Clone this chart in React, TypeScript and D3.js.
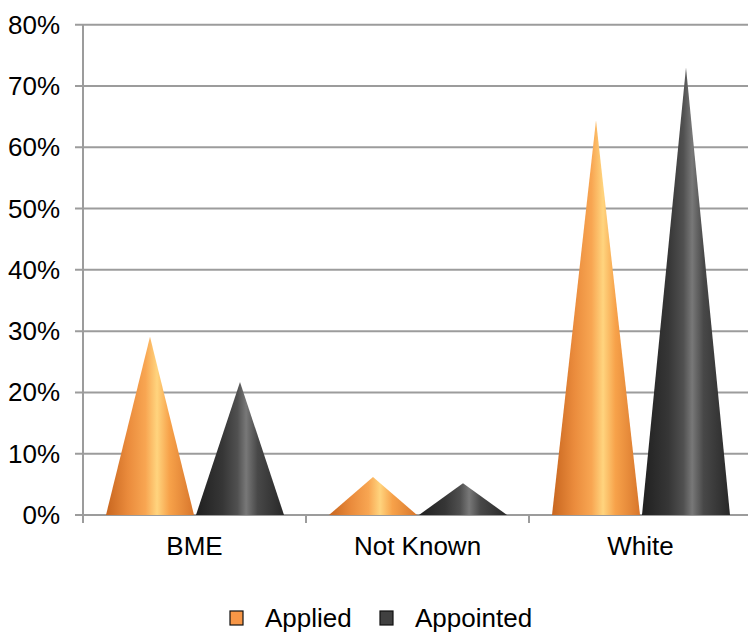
import React from "react";
import * as d3 from "d3";

const categories = ["BME", "Not Known", "White"];
const seriesNames = ["Applied", "Appointed"];
const applied = [0.291, 0.062, 0.644];
const appointed = [0.217, 0.052, 0.73];
const yTicks = [0, 0.1, 0.2, 0.3, 0.4, 0.5, 0.6, 0.7, 0.8];

const W = 748;
const H = 633;
const FONT = "'Liberation Sans', Arial, sans-serif";
const FS = 26;

const gradients = [
  {
    id: "cone-applied",
    stops: [
      [0, "#c8661f"],
      [0.25, "#ea8b3c"],
      [0.45, "#f8a652"],
      [0.58, "#ffd47e"],
      [0.72, "#f7a24a"],
      [1, "#d8762c"],
    ],
    legend: "#f79646",
  },
  {
    id: "cone-appointed",
    stops: [
      [0, "#202020"],
      [0.3, "#363636"],
      [0.47, "#505050"],
      [0.57, "#787878"],
      [0.7, "#484848"],
      [1, "#282828"],
    ],
    legend: "#404040",
  },
];

export default function App() {
  const x = d3.scaleBand<string>().domain(categories).range([83, 752]);
  const y = d3.scaleLinear().domain([0, 0.8]).range([515, 24.7]);
  const inner = d3
    .scaleBand<string>()
    .domain(seriesNames)
    .range([23, 201])
    .paddingInner(0.022);

  const values = [applied, appointed];
  const grid = "#9c9c9c";

  return (
    <svg
      width={W}
      height={H}
      style={{ position: "absolute", left: 0, top: 0, background: "#fff" }}
    >
      <defs>
        {gradients.map((g) => (
          <linearGradient key={g.id} id={g.id} x1="0" y1="0" x2="1" y2="0">
            {g.stops.map(([o, c], i) => (
              <stop key={i} offset={o as number} stopColor={c as string} />
            ))}
          </linearGradient>
        ))}
      </defs>

      {/* horizontal gridlines and y ticks */}
      {yTicks.map((t) => (
        <g key={t}>
          <line
            x1={75}
            x2={W}
            y1={y(t)}
            y2={y(t)}
            stroke={grid}
            strokeWidth={2}
          />
          <text
            x={60}
            y={y(t) + 9}
            textAnchor="end"
            fontFamily={FONT}
            fontSize={FS}
            fill="#000"
          >
            {Math.round(t * 100)}%
          </text>
        </g>
      ))}

      {/* y axis */}
      <line x1={83} x2={83} y1={y(0.8)} y2={y(0)} stroke={grid} strokeWidth={2} />

      {/* category ticks */}
      {[...categories.map((c) => x(c) as number), 752].map((px, i) => (
        <line
          key={i}
          x1={px}
          x2={px}
          y1={y(0)}
          y2={y(0) + 8}
          stroke={grid}
          strokeWidth={2}
        />
      ))}

      {/* cones */}
      {categories.map((c, ci) =>
        seriesNames.map((s, si) => {
          const x0 = (x(c) as number) + (inner(s) as number);
          const bw = inner.bandwidth();
          const v = values[si][ci];
          const path = d3.path();
          path.moveTo(x0, y(0));
          path.lineTo(x0 + bw / 2, y(v));
          path.lineTo(x0 + bw, y(0));
          path.closePath();
          return (
            <path
              key={c + s}
              d={path.toString()}
              fill={`url(#${gradients[si].id})`}
            />
          );
        })
      )}

      {/* category labels */}
      {categories.map((c) => (
        <text
          key={c}
          x={(x(c) as number) + x.bandwidth() / 2}
          y={555}
          textAnchor="middle"
          fontFamily={FONT}
          fontSize={FS}
          fill="#000"
        >
          {c}
        </text>
      ))}

      {/* legend */}
      {seriesNames.map((s, i) => {
        const lx = i === 0 ? 230 : 380;
        return (
          <g key={s}>
            <rect
              x={lx}
              y={611}
              width={13}
              height={14}
              fill={gradients[i].legend}
              stroke="#111"
              strokeWidth={1.2}
            />
            <text
              x={lx + 35}
              y={627}
              fontFamily={FONT}
              fontSize={FS}
              fill="#000"
            >
              {s}
            </text>
          </g>
        );
      })}
    </svg>
  );
}
